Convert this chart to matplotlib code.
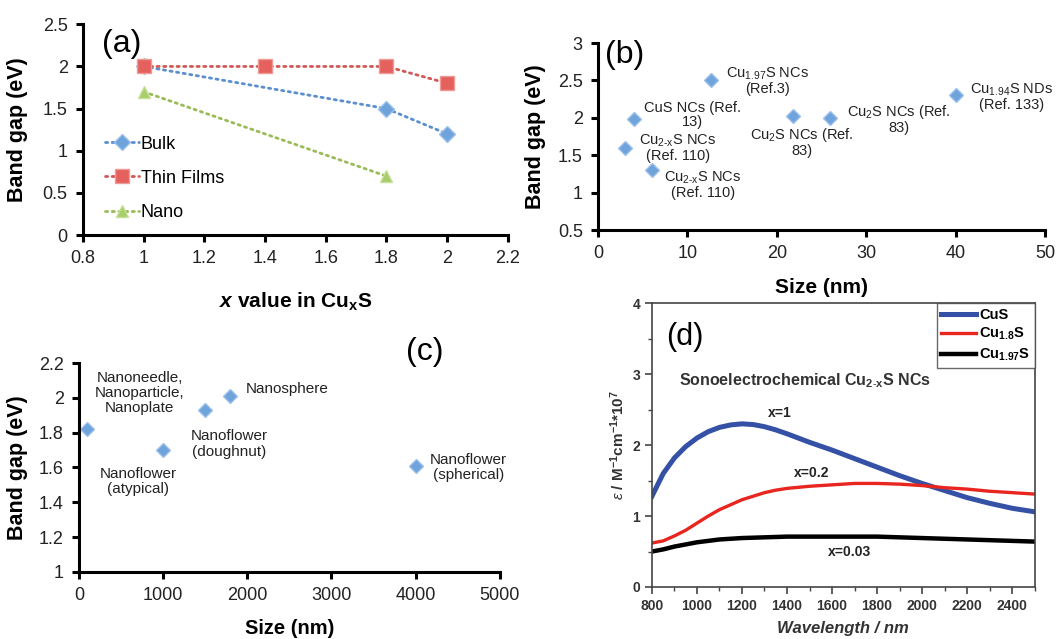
import matplotlib
matplotlib.use("Agg")
import matplotlib.pyplot as plt
from matplotlib.ticker import MultipleLocator, FormatStrFormatter

plt.rcParams['font.family'] = ['Liberation Sans', 'DejaVu Sans']
plt.rcParams['mathtext.fontset'] = 'custom'
plt.rcParams['mathtext.rm'] = 'Liberation Sans'
plt.rcParams['mathtext.it'] = 'Liberation Sans:italic'
plt.rcParams['mathtext.bf'] = 'Liberation Sans:bold'
plt.rcParams['mathtext.bfit'] = 'Liberation Sans:italic:bold'

# ---- (a) band gap vs x in CuxS ----
bulk_x = [1.0, 1.8, 2.0]
bulk_y = [2.0, 1.5, 1.2]
film_x = [1.0, 1.4, 1.8, 2.0]
film_y = [2.0, 2.0, 2.0, 1.8]
nano_x = [1.0, 1.8]
nano_y = [1.7, 0.7]

# ---- (b) band gap vs size, nanocrystals ----
b_size = [3, 4, 6, 12.6, 21.8, 26, 40]
b_gap = [1.6, 1.98, 1.3, 2.5, 2.03, 2.0, 2.3]
b_labels = [
    "Cu$_{\\mathrm{2}\\text{-}\\mathrm{x}}$S NCs\n(Ref. 110)",
    "CuS NCs (Ref.\n13)",
    "Cu$_{\\mathrm{2}\\text{-}\\mathrm{x}}$S NCs\n(Ref. 110)",
    "Cu$_{\\mathrm{1.97}}$S NCs\n(Ref.3)",
    "Cu$_{\\mathrm{2}}$S NCs (Ref.\n83)",
    "Cu$_{\\mathrm{2}}$S NCs (Ref.\n83)",
    "Cu$_{\\mathrm{1.94}}$S NDs\n(Ref. 133)",
]
b_label_xy = [(8.95, 1.60), (10.6, 2.04), (11.7, 1.11), (18.9, 2.49),
              (22.8, 1.68), (33.6, 1.98), (46.2, 2.28)]

# ---- (c) band gap vs size, morphologies ----
c_size = [100, 1000, 1500, 1800, 4000]
c_gap = [1.82, 1.70, 1.93, 2.01, 1.61]
c_labels = ["Nanoneedle,\nNanoparticle,\nNanoplate", "Nanoflower\n(atypical)",
            "Nanoflower\n(doughnut)", "Nanosphere", "Nanoflower\n(spherical)"]
c_label_xy = [(724, 2.03), (700, 1.52), (1782, 1.735), (2470, 2.05), (4632, 1.60)]

# ---- (d) extinction spectra ----
wl = [800, 850, 900, 950, 1000, 1050, 1100, 1150, 1200, 1250, 1300, 1350, 1400, 1500,
      1600, 1700, 1800, 1900, 2000, 2100, 2200, 2300, 2400, 2500]
eps_cus = [1.28, 1.60, 1.82, 1.98, 2.10, 2.19, 2.25, 2.285, 2.30, 2.29, 2.26, 2.215, 2.16, 2.04,
           1.93, 1.81, 1.69, 1.57, 1.46, 1.36, 1.26, 1.18, 1.11, 1.06]
eps_cu18 = [0.62, 0.65, 0.72, 0.80, 0.90, 1.00, 1.09, 1.16, 1.23, 1.28, 1.33, 1.365, 1.39, 1.42,
            1.44, 1.46, 1.46, 1.45, 1.43, 1.40, 1.38, 1.35, 1.33, 1.31]
eps_cu197 = [0.50, 0.53, 0.57, 0.60, 0.63, 0.65, 0.67, 0.68, 0.69, 0.695, 0.70, 0.705, 0.71, 0.71,
             0.71, 0.71, 0.71, 0.70, 0.69, 0.68, 0.67, 0.66, 0.65, 0.64]

blue_mk, blue_ln = '#6fa3dc', '#5b8fd0'
red_mk, red_ln = '#e4615e', '#d35855'
green_mk, green_ln = '#a9cd6a', '#9bbb59'
dots = (0, (0.8, 1.6))


def excel_axes(ax):
    for s in ['top', 'right']:
        ax.spines[s].set_visible(False)
    for s in ['left', 'bottom']:
        ax.spines[s].set_linewidth(2.2)
    ax.tick_params(direction='out', length=5, width=2.2, labelsize=13,
                   labelcolor='#222222', pad=6)
    ax.xaxis.set_major_formatter(FormatStrFormatter('%g'))
    ax.yaxis.set_major_formatter(FormatStrFormatter('%g'))


fig = plt.figure(figsize=(10.57, 6.39), dpi=100)

# (a)
ax = fig.add_axes([0.0785, 0.632, 0.402, 0.330])
ax.plot(bulk_x, bulk_y, linestyle=dots, lw=2, color=blue_ln, dash_capstyle='round',
        marker='D', ms=8, mfc=blue_mk, mec='#9cc0ea', label='Bulk')
ax.plot(film_x, film_y, linestyle=dots, lw=2, color=red_ln, dash_capstyle='round',
        marker='s', ms=10, mfc=red_mk, mec='#f09a98', label='Thin Films')
ax.plot(nano_x, nano_y, linestyle=dots, lw=2, color=green_ln, dash_capstyle='round',
        marker='^', ms=9, mfc=green_mk, mec='#c5e09a', label='Nano')
ax.set_xlim(0.8, 2.2)
ax.set_ylim(0, 2.5)
ax.xaxis.set_major_locator(MultipleLocator(0.2))
ax.yaxis.set_major_locator(MultipleLocator(0.5))
excel_axes(ax)
ax.set_xlabel(r'$\mathbfit{x}$ value in Cu$_\mathbf{x}$S', fontsize=15, fontweight='bold')
ax.set_ylabel('Band gap (eV)', fontsize=15.5, fontweight='bold')
ax.xaxis.set_label_coords(0.5, -0.265)
ax.yaxis.set_label_coords(-0.13, 0.5)
ax.text(0.092, 0.905, '(a)', transform=ax.transAxes, fontsize=23, ha='center', va='center')
ax.legend(loc='center left', bbox_to_anchor=(0.03, 0.27), frameon=False, fontsize=13,
          handlelength=1.9, handletextpad=0.1, labelspacing=0.95, borderpad=0)

# (b)
ax = fig.add_axes([0.5658, 0.640, 0.4229, 0.2926])
ax.plot(b_size, b_gap, linestyle='none', marker='D', ms=7.5, mfc=blue_mk, mec='#9cc0ea')
for txt, (tx, ty) in zip(b_labels, b_label_xy):
    ax.text(tx, ty, txt, fontsize=10.5, ha='center', va='center', linespacing=1.0,
            color='#222222')
ax.set_xlim(0, 50)
ax.set_ylim(0.5, 3)
ax.xaxis.set_major_locator(MultipleLocator(10))
ax.yaxis.set_major_locator(MultipleLocator(0.5))
excel_axes(ax)
ax.set_xlabel('Size (nm)', fontsize=15, fontweight='bold')
ax.set_ylabel('Band gap (eV)', fontsize=15.5, fontweight='bold')
ax.xaxis.set_label_coords(0.5, -0.257)
ax.yaxis.set_label_coords(-0.116, 0.5)
ax.text(0.06, 0.936, '(b)', transform=ax.transAxes, fontsize=23, ha='center', va='center')

# (c)
ax = fig.add_axes([0.0747, 0.1049, 0.398, 0.327])
ax.plot(c_size, c_gap, linestyle='none', marker='D', ms=7.5, mfc=blue_mk, mec='#9cc0ea')
for txt, (tx, ty) in zip(c_labels, c_label_xy):
    ax.text(tx, ty, txt, fontsize=11, ha='center', va='center', linespacing=1.1,
            color='#222222')
ax.set_xlim(0, 5000)
ax.set_ylim(1, 2.2)
ax.xaxis.set_major_locator(MultipleLocator(1000))
ax.yaxis.set_major_locator(MultipleLocator(0.2))
excel_axes(ax)
ax.set_xlabel('Size (nm)', fontsize=14.5, fontweight='bold')
ax.set_ylabel('Band gap (eV)', fontsize=15.5, fontweight='bold')
ax.xaxis.set_label_coords(0.5, -0.225)
ax.yaxis.set_label_coords(-0.122, 0.5)
ax.text(0.822, 1.053, '(c)', transform=ax.transAxes, fontsize=23, ha='center',
        va='center', clip_on=False)

# (d)
ax = fig.add_axes([0.6168, 0.0814, 0.362, 0.444])
ax.plot(wl, eps_cus, color='#3451a6', lw=3.6, label=r'CuS')
ax.plot(wl, eps_cu18, color='#e8251e', lw=2.4, label=r'Cu$_{\mathbf{1.8}}$S')
ax.plot(wl, eps_cu197, color='black', lw=3.2, label=r'Cu$_{\mathbf{1.97}}$S')
ax.set_xlim(800, 2500)
ax.set_ylim(0, 4)
ax.xaxis.set_major_locator(MultipleLocator(200))
ax.xaxis.set_minor_locator(MultipleLocator(100))
ax.yaxis.set_major_locator(MultipleLocator(1))
ax.yaxis.set_minor_locator(MultipleLocator(0.5))
for s in ax.spines.values():
    s.set_linewidth(1.2)
    s.set_color('#444444')
ax.tick_params(which='major', direction='out', length=5, width=1.2, color='#444444',
               labelsize=10)
ax.tick_params(which='minor', direction='out', length=3, width=1.0, color='#444444')
for lbl in ax.get_xticklabels() + ax.get_yticklabels():
    lbl.set_fontweight('bold')
    lbl.set_color('#333333')
ax.set_xlabel('Wavelength / nm', fontsize=12, fontweight='bold', style='italic',
              color='#333333')
ax.set_ylabel(r'$\varepsilon$ / M$^{\mathbf{-1}}$cm$^{\mathbf{-1}}$*10$^{\mathbf{7}}$',
              fontsize=11, fontweight='bold', color='#333333')
ax.xaxis.set_label_coords(0.5, -0.12)
ax.yaxis.set_label_coords(-0.065, 0.5)
ax.text(0.086, 0.88, '(d)', transform=ax.transAxes, fontsize=22, ha='center', va='center')
ax.text(0.07, 0.727, r'Sonoelectrochemical Cu$_{\mathbf{2}\text{-}\mathbf{x}}$S NCs',
        transform=ax.transAxes, fontsize=11.5, fontweight='bold', color='#333333', va='center')
ax.text(1370, 2.46, 'x=1', fontsize=10, fontweight='bold', color='#222222', ha='center', va='center')
ax.text(1510, 1.6, 'x=0.2', fontsize=10, fontweight='bold', color='#222222', ha='center', va='center')
ax.text(1680, 0.49, 'x=0.03', fontsize=10, fontweight='bold', color='#222222', ha='center', va='center')
leg = ax.legend(loc='upper right', borderaxespad=0, fancybox=False, edgecolor='#444444',
                prop={'weight': 'bold', 'size': 10.5}, handlelength=2.4, handletextpad=0.2,
                labelspacing=0.3, borderpad=0.3)
leg.get_frame().set_linewidth(1.0)

fig.savefig('out.png', dpi=100)
